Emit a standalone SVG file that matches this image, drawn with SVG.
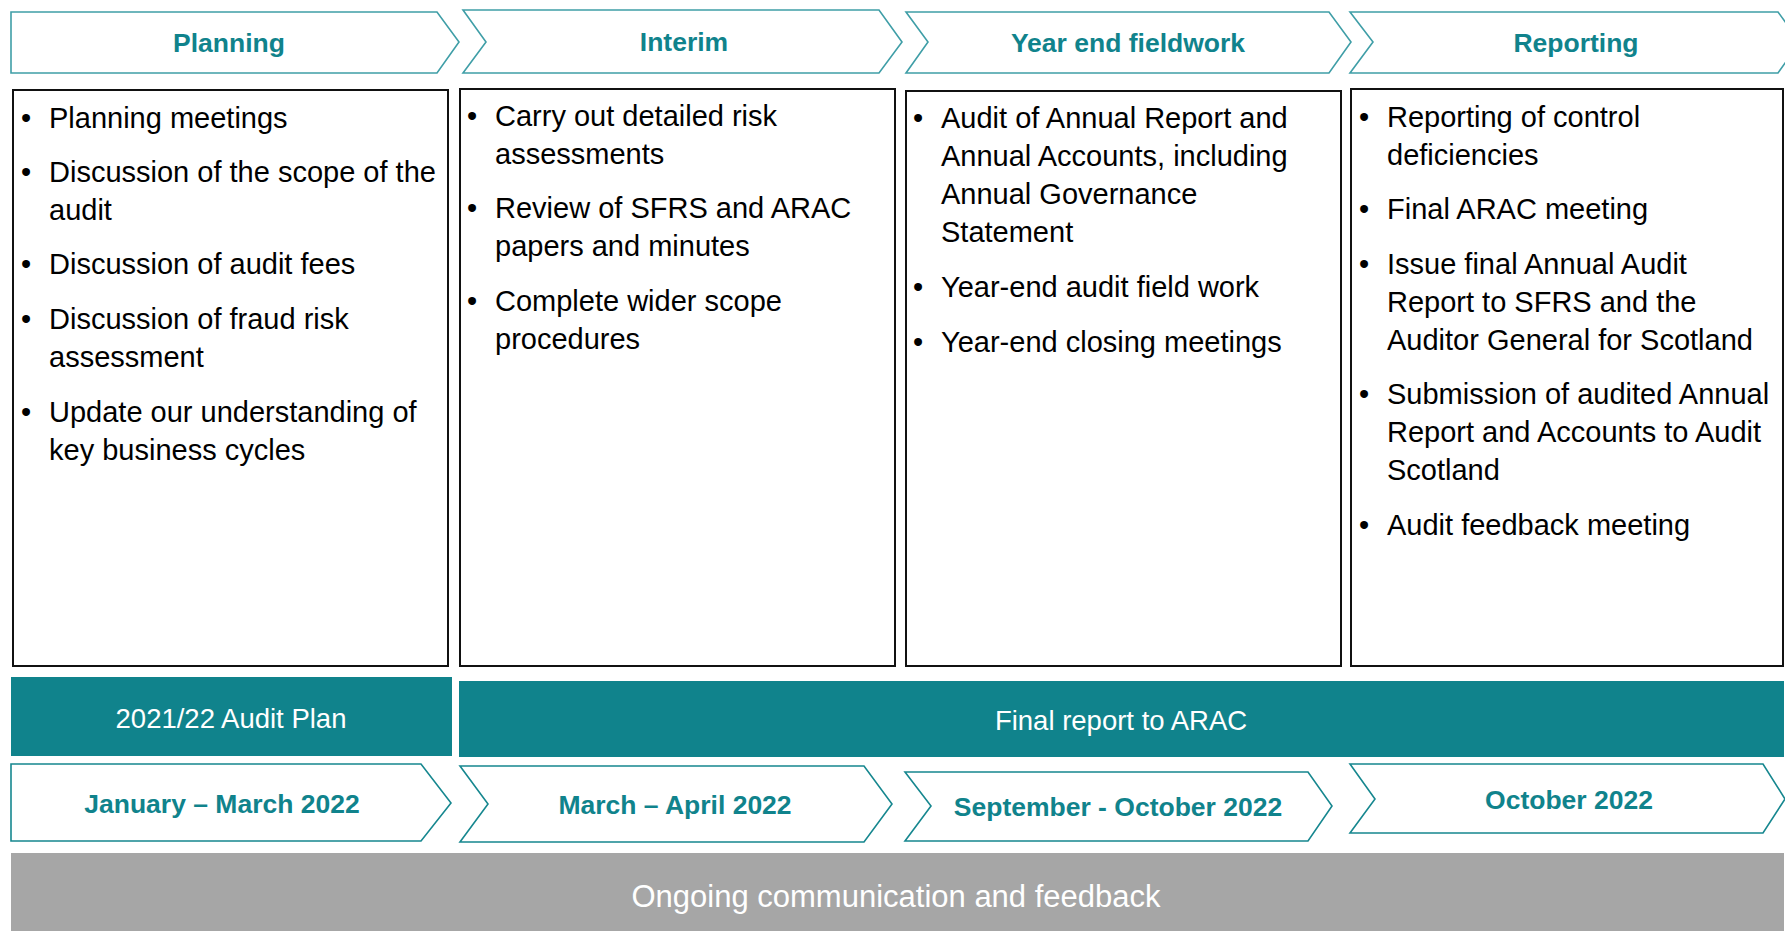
<svg xmlns="http://www.w3.org/2000/svg" width="1785" height="931" viewBox="0 0 1785 931">
<style>
.chev{fill:#fff;stroke:#3f9ea7;stroke-width:1.6}
.chevb{fill:#fff;stroke:#16878f;stroke-width:1.6}
.box{fill:#fff;stroke:#111;stroke-width:2}
.hd{font-family:"Liberation Sans",Arial,sans-serif;font-weight:bold;font-size:26.5px;fill:#10838c;text-anchor:middle}
.tx{font-family:"Liberation Sans",Arial,sans-serif;font-size:29px;fill:#000}
.band{fill:#10838c}
.bt{font-family:"Liberation Sans",Arial,sans-serif;font-size:27.5px;fill:#fff;text-anchor:middle}
</style>
<rect width="1785" height="931" fill="#fff"/>
<g id="planning-header"><path class="chev" d="M11,12 L437,12 L459,42 L437,73 L11,73 Z"/><text class="hd" x="229" y="52">Planning</text></g>
<g id="interim-header"><path class="chev" d="M463,10 L879,10 L902,42 L879,73 L463,73 L486,42 Z"/><text class="hd" x="684" y="51">Interim</text></g>
<g id="yearend-header"><path class="chev" d="M906,12 L1329,12 L1351,42 L1329,73 L906,73 L928,42 Z"/><text class="hd" x="1128" y="52">Year end fieldwork</text></g>
<g id="reporting-header"><path class="chev" d="M1350,12 L1778,12 L1800,42 L1778,73 L1350,73 L1373,42 Z"/><text class="hd" x="1576" y="52">Reporting</text></g>

<g id="planning-box"><rect class="box" x="13" y="90" width="435" height="576"/>
<g class="tx">
<text x="21" y="128">•</text><text x="49" y="128">Planning meetings</text>
<text x="21" y="182">•</text><text x="49" y="182">Discussion of the scope of the</text><text x="49" y="220">audit</text>
<text x="21" y="274">•</text><text x="49" y="274">Discussion of audit fees</text>
<text x="21" y="329">•</text><text x="49" y="329">Discussion of fraud risk</text><text x="49" y="367">assessment</text>
<text x="21" y="422">•</text><text x="49" y="422">Update our understanding of</text><text x="49" y="460">key business cycles</text>
</g></g>
<g id="interim-box"><rect class="box" x="460" y="89" width="435" height="577"/>
<g class="tx">
<text x="467" y="126">•</text><text x="495" y="126">Carry out detailed risk</text><text x="495" y="164">assessments</text>
<text x="467" y="218">•</text><text x="495" y="218">Review of SFRS and ARAC</text><text x="495" y="256">papers and minutes</text>
<text x="467" y="311">•</text><text x="495" y="311">Complete wider scope</text><text x="495" y="349">procedures</text>
</g></g>
<g id="yearend-box"><rect class="box" x="906" y="91" width="435" height="575"/>
<g class="tx">
<text x="913" y="128">•</text><text x="941" y="128">Audit of Annual Report and</text><text x="941" y="166">Annual Accounts, including</text><text x="941" y="204">Annual Governance</text><text x="941" y="242">Statement</text>
<text x="913" y="297">•</text><text x="941" y="297">Year-end audit field work</text>
<text x="913" y="352">•</text><text x="941" y="352">Year-end closing meetings</text>
</g></g>
<g id="reporting-box"><rect class="box" x="1351" y="89" width="432" height="577"/>
<g class="tx">
<text x="1359" y="127">•</text><text x="1387" y="127">Reporting of control</text><text x="1387" y="165">deficiencies</text>
<text x="1359" y="219">•</text><text x="1387" y="219">Final ARAC meeting</text>
<text x="1359" y="274">•</text><text x="1387" y="274">Issue final Annual Audit</text><text x="1387" y="312">Report to SFRS and the</text><text x="1387" y="350">Auditor General for Scotland</text>
<text x="1359" y="404">•</text><text x="1387" y="404">Submission of audited Annual</text><text x="1387" y="442">Report and Accounts to Audit</text><text x="1387" y="480">Scotland</text>
<text x="1359" y="535">•</text><text x="1387" y="535">Audit feedback meeting</text>
</g></g>

<g id="audit-plan"><rect class="band" x="11" y="677" width="441" height="79"/><text class="bt" x="231" y="728">2021/22 Audit Plan</text></g>
<g id="final-report"><rect class="band" x="459" y="681" width="1325" height="76"/><text class="bt" x="1121" y="730">Final report to ARAC</text></g>

<g id="date-jan-mar"><path class="chevb" d="M11,764 L421,764 L451,803 L421,841 L11,841 Z"/><text class="hd" x="222" y="813">January – March 2022</text></g>
<g id="date-mar-apr"><path class="chevb" d="M460,766 L864,766 L892,804 L864,842 L460,842 L488,804 Z"/><text class="hd" x="675" y="814">March – April 2022</text></g>
<g id="date-sep-oct"><path class="chevb" d="M905,772 L1308,772 L1332,806 L1308,841 L905,841 L931,806 Z"/><text class="hd" x="1118" y="816">September - October 2022</text></g>
<g id="date-oct"><path class="chevb" d="M1350,764 L1763,764 L1785,799 L1763,833 L1350,833 L1375,799 Z"/><text class="hd" x="1569" y="809">October 2022</text></g>

<g id="ongoing"><rect x="11" y="853" width="1773" height="78" fill="#a6a6a6"/><text class="bt" x="896" y="907" style="font-size:31px">Ongoing communication and feedback</text></g>
<g id="connectors"></g>
</svg>
